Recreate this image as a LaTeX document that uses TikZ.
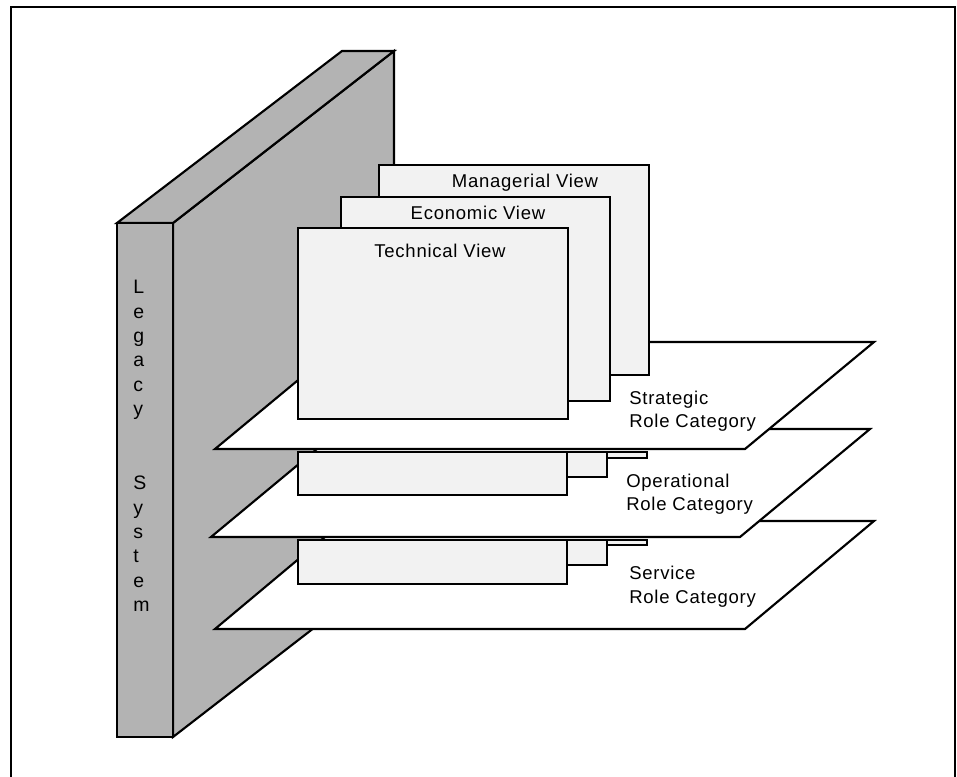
\documentclass[tikz,border=0pt]{standalone}
\usepackage{fontspec}
\setmainfont{Liberation Sans}
\newfontfamily\labelfont[LetterSpace=4]{Liberation Sans}
\definecolor{slabgray}{RGB}{179,179,179}
\definecolor{cardgray}{RGB}{242,242,242}
\begin{document}
\begin{tikzpicture}[x=0.75pt,y=-0.75pt,
  edge/.style={draw=black,line width=1.6pt},
  slabface/.style={edge,fill=slabgray},
  viewcard/.style={edge,fill=cardgray},
  layer/.style={edge,fill=white},
  lbl/.style={font=\labelfont\fontsize{13.9}{16}\selectfont,inner sep=0pt},
  slabletter/.style={font=\fontsize{14.6}{16}\selectfont,inner sep=0pt,anchor=base west}]
\useasboundingbox (0,0) rectangle (957,777);

% outer frame
\draw[line width=1.5pt] (10.5,790) |- (955,7.5) -- (955,790);

% legacy system slab
\path[slabface] (173,223) -- (394,51) -- (394,566) -- (173,737) -- cycle;
\path[slabface] (117,223) -- (342,51) -- (394,51) -- (173,223) -- cycle;
\path[slabface] (117,223) rectangle (173,737);

% service layer
\path[layer] (215,629) -- (745,629) -- (874,521) -- (344,521) -- cycle;
\path[viewcard] (379,540) rectangle (647,545);
\path[viewcard] (341,540) rectangle (607,565);
\path[viewcard] (298,540) rectangle (567,584);

% operational layer
\path[layer] (211,537) -- (740,537) -- (870,429) -- (341,429) -- cycle;
\path[viewcard] (379,452) rectangle (647,458);
\path[viewcard] (341,452) rectangle (607,477);
\path[viewcard] (298,452) rectangle (567,495);

% strategic layer
\path[layer] (215,449) -- (745,449) -- (874,342) -- (344,342) -- cycle;
\path[viewcard] (379,165) rectangle (649,375);
\path[viewcard] (341,197) rectangle (610,401);
\path[viewcard] (298,228) rectangle (568,419);

% view titles
\node[lbl,anchor=base] (mv) at (525,188) {Managerial View};
\node[lbl,anchor=base] (ev) at (478,220) {Economic View};
\node[lbl,anchor=base] (tv) at (440,258) {Technical View};

% layer titles
\node[lbl,anchor=base west] (s1) at (629,404) {Strategic};
\node[lbl,anchor=base west] (s2) at (629,427) {Role Category};
\node[lbl,anchor=base west] (o1) at (626,487) {Operational};
\node[lbl,anchor=base west] (o2) at (626,510) {Role Category};
\node[lbl,anchor=base west] (v1) at (629,579) {Service};
\node[lbl,anchor=base west] (v2) at (629,603) {Role Category};

% vertical slab caption
\foreach \ch [count=\i] in {L,e,g,a,c,y}
  \node[slabletter] (la\i) at (133,294+24.3*\i-24.3) {\ch};
\foreach \ch [count=\i] in {S,y,s,t,e,m}
  \node[slabletter] (lb\i) at (133,489.8+24.3*\i-24.3) {\ch};
\end{tikzpicture}
\end{document}
